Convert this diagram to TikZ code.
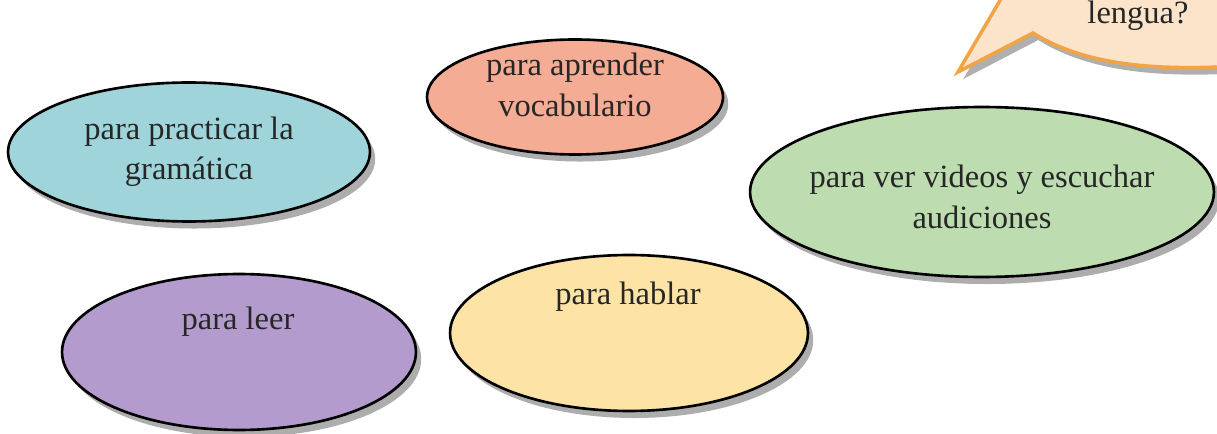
\documentclass[tikz,border=0pt]{standalone}
\usepackage{fontspec}
\setmainfont{Liberation Serif}
\usetikzlibrary{shadows, shapes.geometric, positioning, calc}

\begin{document}
\begin{tikzpicture}[x=0.02cm, y=0.02cm,
  oval/.style={ellipse, draw=black, line width=1.5pt, inner sep=0pt,
    drop shadow={shadow xshift=3pt, shadow yshift=-4pt, fill=gray!75, opacity=0.85}},
  rotulo/.style={align=center, text=black!85, font=\fontsize{18.5}{23}\selectfont}]
% --- ELIPSES COLORIDAS COM SOMBRA E BALAO DE FALA ---
\definecolor{cian}{HTML}{9FD5DA}
\definecolor{salmao}{HTML}{F4AC94}
\definecolor{verde}{HTML}{BDDDB0}
\definecolor{roxo}{HTML}{B39CCD}
\definecolor{amarelo}{HTML}{FEE3A7}
\definecolor{balao}{HTML}{FCE4CB}
\definecolor{laranja}{HTML}{F2A443}
\useasboundingbox (0,0) rectangle (1217,433);

% LAYER 1: Balão de fala (cortado no topo)
\begin{scope}
\clip (0,0) rectangle (1217,433);
\draw[fill=balao, draw=laranja, line width=2pt, drop shadow={shadow xshift=3pt, shadow yshift=-4pt, fill=gray!70, opacity=0.9}]
  (1012,453) -- (958,361) -- (1033,400) .. controls (1090,364) and (1170,363) .. (1240,367) -- (1240,453) -- cycle;
\node[rotulo] (lengua) at (1138,417) {lengua?};
\end{scope}

% LAYER 2: Elipses
\node[oval, fill=cian, minimum width=7.24cm, minimum height=2.78cm] (gramatica) at (189,281) {};
\node[oval, fill=salmao, minimum width=5.92cm, minimum height=2.3cm] (vocabulario) at (575,336) {};
\node[oval, fill=verde, minimum width=9.28cm, minimum height=3.4cm] (videos) at (982,241) {};
\node[oval, fill=roxo, minimum width=7.08cm, minimum height=3.12cm] (leer) at (239,81) {};
\node[oval, fill=amarelo, minimum width=7.16cm, minimum height=3.12cm] (hablar) at (629,100) {};

% LAYER 3: Textos
\node[rotulo] (gramaticatxt) at (gramatica) {para practicar la\\gramática};
\node[rotulo] (vocabulariotxt) at (575,348) {para aprender\\vocabulario};
\node[rotulo] (videostxt) at (982,236) {para ver videos y escuchar\\audiciones};
\node[rotulo] (leertxt) at (238,111) {para leer};
\node[rotulo] (hablartxt) at (628,136) {para hablar};
\end{tikzpicture}
\end{document}
